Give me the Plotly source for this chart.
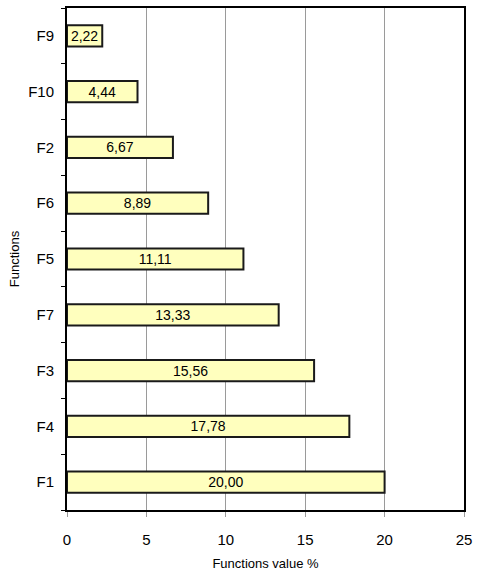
import plotly.graph_objects as go

categories = ["F1", "F4", "F3", "F7", "F5", "F6", "F2", "F10", "F9"]
values = [20.00, 17.78, 15.56, 13.33, 11.11, 8.89, 6.67, 4.44, 2.22]
x_ticks = [0, 5, 10, 15, 20, 25]

labels = [f"{v:.2f}".replace(".", ",") for v in values]

FONT = "Liberation Sans, Arial"

fig = go.Figure(
    go.Bar(
        x=values,
        y=categories,
        orientation="h",
        width=0.38,
        marker=dict(color="#FFFFBE", line=dict(color="#1a1a1a", width=2)),
        text=labels,
        textposition="inside",
        insidetextanchor="middle",
        constraintext="none",
        textfont=dict(family=FONT, size=14, color="black"),
        cliponaxis=False,
    )
)

fig.update_layout(
    width=478,
    height=575,
    margin=dict(l=67, r=10, t=6, b=64),
    paper_bgcolor="white",
    plot_bgcolor="white",
    showlegend=False,
    font=dict(family=FONT, color="black"),
    xaxis=dict(
        range=[0, 25],
        tickvals=x_ticks,
        ticktext=[str(t) for t in x_ticks],
        showgrid=True,
        gridcolor="#9a9a9a",
        gridwidth=1,
        zeroline=False,
        showline=True,
        linecolor="black",
        linewidth=2,
        mirror=True,
        ticks="outside",
        ticklen=5,
        tickcolor="#9a9a9a",
        ticklabelstandoff=10,
        tickfont=dict(size=15),
        title=dict(text="Functions value %", font=dict(size=13), standoff=12),
        fixedrange=True,
    ),
    yaxis=dict(
        categoryorder="array",
        categoryarray=categories,
        showgrid=False,
        zeroline=False,
        showline=True,
        linecolor="black",
        linewidth=2,
        mirror=True,
        ticks="outside",
        tickson="boundaries",
        ticklen=4,
        tickcolor="black",
        ticklabelstandoff=8,
        tickfont=dict(size=15),
        title=dict(text="Functions", font=dict(size=13), standoff=6),
        fixedrange=True,
    ),
)

fig.write_html("out.html")
